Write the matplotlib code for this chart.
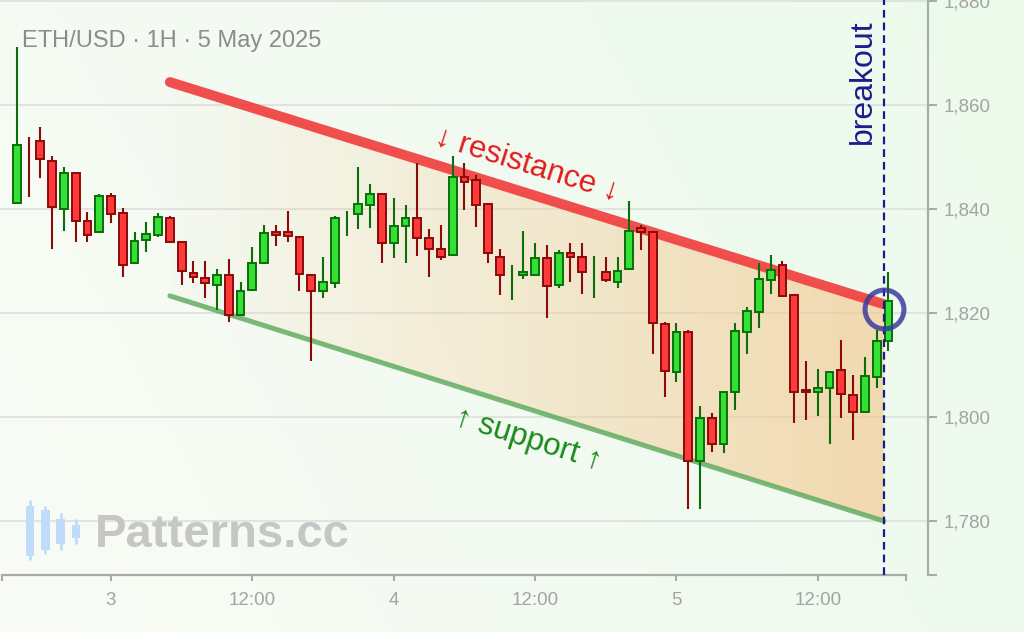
import numpy as np
import matplotlib
matplotlib.use("Agg")
import matplotlib.pyplot as plt
from matplotlib.patches import Polygon

plt.rcParams['font.family'] = ['Liberation Sans', 'DejaVu Sans']

# hourly candles, hour 0 = 3 May 00:00
hours = np.arange(-8, 67)
opens = [1841.1, 1848.3, 1853.1, 1849.3, 1840.0, 1847.0, 1837.75, 1835.6, 1842.5, 1839.3,
         1829.55, 1834.0, 1835.0, 1838.3, 1833.7, 1827.75, 1826.7, 1825.4, 1827.3, 1819.6,
         1824.5, 1829.55, 1835.6, 1835.5, 1834.7, 1827.3, 1824.2, 1825.7, 1837.2, 1839.0,
         1840.8, 1842.8, 1833.4, 1836.7, 1838.2, 1834.4, 1832.4, 1831.2, 1846.1, 1845.6,
         1841.0, 1830.7, 1827.4, 1827.3, 1827.3, 1830.6, 1825.4, 1831.6, 1830.85, 1827.0,
         1827.9, 1826.0, 1828.4, 1836.3, 1835.5, 1817.8, 1808.7, 1816.4, 1791.5, 1799.75,
         1794.8, 1804.9, 1816.3, 1820.1, 1826.4, 1829.2, 1823.5, 1805.25, 1804.75, 1805.6,
         1809.1, 1804.2, 1801.0, 1807.75, 1814.7]
highs = [1871.2, 1853.9, 1855.7, 1850.2, 1848.0, 1847.0, 1839.5, 1842.8, 1843.0, 1840.25,
         1835.6, 1837.55, 1839.2, 1838.7, 1833.7, 1830.0, 1830.0, 1828.4, 1830.3, 1826.0,
         1832.6, 1836.9, 1836.9, 1839.6, 1834.8, 1827.3, 1830.7, 1838.7, 1839.6, 1848.1,
         1844.9, 1843.0, 1842.1, 1840.8, 1848.8, 1836.1, 1836.9, 1850.1, 1848.8, 1846.5,
         1841.1, 1832.4, 1829.2, 1835.8, 1833.4, 1833.1, 1832.2, 1833.4, 1833.4, 1831.0,
         1830.7, 1830.7, 1841.5, 1836.9, 1835.5, 1818.3, 1818.0, 1816.7, 1802.2, 1800.7,
         1805.0, 1818.0, 1821.1, 1829.6, 1831.15, 1830.05, 1823.5, 1810.8, 1809.2, 1808.9,
         1814.9, 1808.1, 1811.6, 1816.7, 1827.9]
lows = [1841.1, 1842.4, 1845.9, 1832.4, 1835.8, 1833.6, 1833.6, 1835.4, 1837.25, 1827.0,
        1829.4, 1831.7, 1834.7, 1833.5, 1825.4, 1825.7, 1822.8, 1820.6, 1818.3, 1819.5,
        1824.3, 1829.4, 1832.95, 1833.7, 1824.3, 1810.8, 1822.8, 1824.75, 1834.9, 1836.15,
        1836.3, 1829.7, 1830.5, 1829.7, 1831.0, 1826.9, 1830.25, 1831.0, 1839.9, 1836.6,
        1829.7, 1823.5, 1822.5, 1826.5, 1827.2, 1819.0, 1824.75, 1826.0, 1823.65, 1822.8,
        1826.0, 1824.75, 1828.3, 1832.2, 1812.1, 1803.8, 1806.7, 1782.4, 1782.4, 1793.3,
        1793.0, 1801.4, 1812.1, 1817.05, 1823.65, 1823.0, 1798.9, 1799.5, 1800.25, 1794.8,
        1799.9, 1795.6, 1801.0, 1805.5, 1812.75]
closes = [1852.3, 1848.25, 1849.6, 1840.4, 1847.0, 1837.7, 1835.0, 1842.5, 1839.0, 1829.2,
          1833.9, 1835.25, 1838.5, 1833.7, 1828.1, 1826.9, 1825.7, 1827.3, 1819.6, 1824.3,
          1829.7, 1835.4, 1835.0, 1834.75, 1827.5, 1824.2, 1826.0, 1838.2, 1837.25, 1840.9,
          1842.8, 1833.4, 1836.8, 1838.2, 1834.4, 1832.4, 1830.7, 1846.1, 1845.25, 1840.8,
          1831.5, 1827.3, 1827.45, 1827.9, 1830.65, 1825.25, 1831.6, 1830.7, 1827.9, 1827.05,
          1826.4, 1828.1, 1835.8, 1835.6, 1818.0, 1808.85, 1816.4, 1791.5, 1799.75, 1794.8,
          1804.9, 1816.6, 1820.45, 1826.5, 1828.3, 1823.2, 1804.75, 1804.75, 1805.6, 1808.7,
          1804.4, 1801.0, 1807.95, 1814.7, 1822.4]

tick_hours = [0, 12, 24, 36, 48, 60]
tick_labels = ["3", "12:00", "4", "12:00", "5", "12:00"]
price_ticks = [1780, 1800, 1820, 1840, 1860, 1880]

# falling channel
res_hours = [5, 65.6]
res_prices = [1864.4, 1821.7]
sup_hours = [5, 65.6]
sup_prices = [1823.3, 1780.0]
breakout_hour = 65.6
breakout_price = 1820.8

# logo candles (watermark)
logo_x = [0, 1, 2, 3]
logo_hi = [9.6, 8.8, 7.8, 7.0]
logo_top = [8.8, 8.2, 7.0, 6.2]
logo_bot = [2.2, 3.0, 3.8, 4.5]
logo_lo = [1.6, 2.4, 3.0, 3.8]

opens = np.array(opens); closes = np.array(closes)
highs = np.array(highs); lows = np.array(lows)

fig = plt.figure(figsize=(10.24, 6.32), dpi=100)

# background gradient
bg = fig.add_axes([0, 0, 1, 1], zorder=-10)
gx, gy = np.meshgrid(np.linspace(0, 1, 256), np.linspace(0, 1, 160))
t = np.clip(0.75 * gx + 0.25 * gy, 0, 1)[..., None]
c0 = np.array([0.975, 0.985, 0.965])
c1 = np.array([0.925, 0.982, 0.925])
bg.imshow(c0 * (1 - t) + c1 * t, aspect='auto', extent=[0, 1, 0, 1], origin='lower')
bg.set_xlim(0, 1); bg.set_ylim(0, 1)
bg.axis('off')

ax = fig.add_axes([0, 57 / 632, 928 / 1024, 575 / 632])
ax.set_facecolor('none')
xlim = (-111 / 11.78, (928 - 111) / 11.78)
ylim = (1880 - 574 / 5.2, 1880 + 1 / 5.2)

# channel fill with gradient
poly = Polygon([(sup_hours[0], sup_prices[0]), (sup_hours[1], sup_prices[1]),
                (res_hours[1], res_prices[1]), (res_hours[0], res_prices[0])],
               closed=True, facecolor='none', edgecolor='none')
ax.add_patch(poly)
ramp = np.linspace(0.0, 1.0, 256)
img = np.zeros((2, 256, 4))
img[..., 0] = 0.953; img[..., 1] = 0.78; img[..., 2] = 0.55
img[..., 3] = 0.02 + 0.62 * ramp
im = ax.imshow(img, aspect='auto', extent=[res_hours[0], res_hours[1], 1775, 1870],
               origin='lower', zorder=1, interpolation='bilinear')
im.set_clip_path(poly)

ax.plot(res_hours, res_prices, color='#f03c3c', alpha=0.9, lw=7.2,
        solid_capstyle='round', zorder=2)
ax.plot(sup_hours, sup_prices, color='#5aa85a', alpha=0.8, lw=3.6,
        solid_capstyle='round', zorder=2)

# candles
up = closes >= opens
edge = np.where(up, '#0b6e0b', '#8b0a0a')
fill = np.where(up, '#33e033', '#ff3a3a')
ax.vlines(hours, lows, highs, colors=edge, lw=1.5, zorder=4)
body = np.abs(closes - opens) > 0.1
ax.bar(hours[body], (closes - opens)[body], bottom=opens[body], width=0.66,
       color=fill[body], edgecolor=edge[body], linewidth=1.4, zorder=5)

# breakout marker
ax.axvline(breakout_hour, color='#1a1a8f', lw=1.6, dashes=(3.5, 2.2), zorder=6)
ax.plot(breakout_hour, breakout_price, 'o', ms=28, mfc='none', mec='#3b3b9e',
        mew=3.6, alpha=0.85, zorder=7)
ax.annotate('breakout', xy=(breakout_hour, 1), xycoords=('data', 'axes fraction'),
            xytext=(-6, -19), textcoords='offset pixels', rotation=90,
            ha='right', va='top', fontsize=23, color='#1c1c8c', zorder=7)

ax.text(35.3, 1848.5, '↓ resistance ↓', rotation=-17.3, rotation_mode='anchor',
        ha='center', va='center', fontsize=22.5, color='#e31b1b', zorder=3)
ax.text(35.4, 1795.6, '↑ support ↑', rotation=-17.4, rotation_mode='anchor',
        ha='center', va='center', fontsize=22.5, color='#1a8a1a', zorder=3)

# axes styling
ax.set_xlim(*xlim); ax.set_ylim(*ylim)
for s in ['top', 'left']:
    ax.spines[s].set_visible(False)
for s in ['bottom', 'right']:
    ax.spines[s].set_color('#aaaaaa')
    ax.spines[s].set_linewidth(1.6)
ax.spines['bottom'].set_bounds(-9.25, 67.5)
ax.yaxis.tick_right()
ax.set_xticks(tick_hours, tick_labels)
ax.set_xticks([-9.25, 67.5], minor=True)
ax.set_yticks(price_ticks, [f"{p:,}" for p in price_ticks])
ax.set_yticks(list(ylim), minor=True)
ax.tick_params(axis='x', which='both', direction='out', length=4.5, width=1.5,
               color='#aaaaaa', labelcolor='#a3a3a3', labelsize=13.5, pad=8)
ax.tick_params(axis='y', which='both', direction='out', length=6.5, width=1.5,
               color='#aaaaaa', labelcolor='#a3a3a3', labelsize=13.5, pad=5,
               left=False, right=True)
ax.grid(axis='y', which='major', color='#dcdcdc', lw=1.1)
ax.set_axisbelow(True)

fig.text(22 / 1024, 1 - 41 / 632, 'ETH/USD · 1H · 5 May 2025', fontsize=17,
         color='#8c8c8c', va='center', ha='left')

# watermark
fig.text(95 / 1024, 1 - 535 / 632, 'Patterns.cc', fontsize=34, fontweight='bold',
         color='#c6c6c6', va='center', ha='left')
logo = fig.add_axes([22 / 1024, 1 - 565 / 632, 62 / 1024, 70 / 632])
logo.vlines(logo_x, logo_lo, logo_hi, colors='#c0dcfa', lw=2)
logo.bar(logo_x, np.array(logo_top) - np.array(logo_bot), bottom=logo_bot,
         width=0.55, color='#c0dcfa')
logo.set_xlim(-0.55, 3.55); logo.set_ylim(1, 10.2)
logo.axis('off')

fig.savefig('out.png', dpi=100)
